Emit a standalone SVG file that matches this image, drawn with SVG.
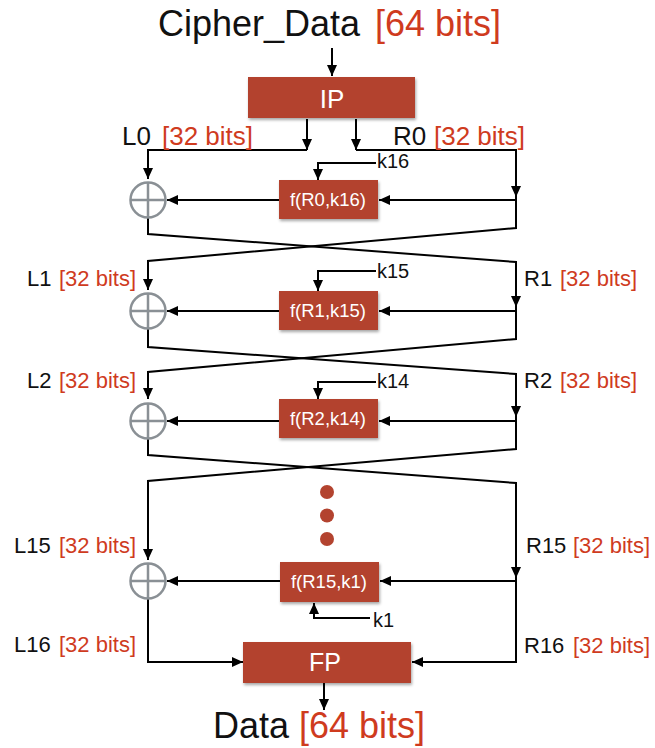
<svg xmlns="http://www.w3.org/2000/svg" width="655" height="748" viewBox="0 0 655 748">
<defs>
<marker id="ah" markerUnits="userSpaceOnUse" markerWidth="11" markerHeight="10" refX="11" refY="5" orient="auto">
<path d="M0,0 L11,5 L0,10 Z" fill="#000"/>
</marker>
<filter id="sh" x="-10%" y="-10%" width="125%" height="135%">
<feDropShadow dx="1" dy="2" stdDeviation="1.5" flood-color="#000" flood-opacity="0.35"/>
</filter>
<style>
.box{fill:#b3432f;filter:url(#sh)}
.bt{fill:#fff;font-family:"Liberation Sans",Arial,sans-serif;text-anchor:middle}
.c{fill:none;stroke:#000;stroke-width:2}
.a{marker-end:url(#ah)}
.x{fill:#fff;stroke:#8a9095;stroke-width:2.5}
.t{font-family:"Liberation Sans",Arial,sans-serif;fill:#111}
.r{fill:#cf3b1e}
.lb{font-size:22px}
.k{font-size:20px}
.dot{fill:#b3432f}
</style>
</defs>
<rect width="655" height="748" fill="#fff"/>
<g id="connectors">
<path class="c a" d="M332,48 V76"/>
<path class="c a" d="M307,119 V150"/>
<path class="c a" d="M356,119 V150"/>
<path class="c a" d="M307,150 H148 V179"/>
<path class="c a" d="M356,150 H516 V197"/>
<path class="c a" d="M516,197 V228 L148,261 V290"/>
<path class="c a" d="M516,200 H379"/>
<path class="c a" d="M279,200 H167"/>
<path class="c a" d="M376,163 H318 V180"/>
<path class="c a" d="M148,217.5 V234 L516,262 V307"/>
<path class="c a" d="M516,307 V339 L148,372 V399"/>
<path class="c a" d="M516,311 H379"/>
<path class="c a" d="M279,311 H167"/>
<path class="c a" d="M376,271 H318 V291"/>
<path class="c a" d="M148,328.5 V347 L516,374 V417"/>
<path class="c a" d="M516,417 V449 L148,481 V560"/>
<path class="c a" d="M516,421 H379"/>
<path class="c a" d="M279,421 H167"/>
<path class="c a" d="M376,382 H318 V399"/>
<path class="c a" d="M148,438.5 V455 L516,483 V578"/>
<path class="c a" d="M516,578 V662 H412"/>
<path class="c a" d="M516,581 H380"/>
<path class="c a" d="M280,581 H167"/>
<path class="c a" d="M370,618 H314 V603"/>
<path class="c a" d="M148,599 V662 H243"/>
<path class="c a" d="M324,683 V710"/>
</g>
<g id="title"><text class="t" x="158" y="36" font-size="36">Cipher_Data <tspan class="r" x="375">[64 bits]</tspan></text></g>
<g id="ip"><rect class="box" x="248" y="77" width="167" height="41"/><text class="bt" x="332" y="108" font-size="26">IP</text></g>
<g id="label-l0"><text class="t" x="122" y="145" font-size="26">L0<tspan class="r" x="162">[32 bits]</tspan></text></g>
<g id="label-r0"><text class="t" x="393" y="145" font-size="26">R0<tspan class="r" x="434">[32 bits]</tspan></text></g>
<g id="xor1"><circle class="x" cx="148" cy="200" r="17.5"/><path d="M130.5,200 H165.5 M148,182.5 V217.5" stroke="#8a9095" stroke-width="2.5"/></g>
<g id="f1"><rect class="box" x="279" y="180" width="99" height="39"/><text class="bt" x="328" y="206" font-size="18.5">f(R0,k16)</text></g>
<g id="k16"><text class="t k" x="377" y="168">k16</text></g>
<g id="label-l1"><text class="t lb" x="27" y="286">L1<tspan class="r" x="59">[32 bits]</tspan></text></g>
<g id="label-r1"><text class="t lb" x="524" y="286">R1<tspan class="r" x="560">[32 bits]</tspan></text></g>
<g id="xor2"><circle class="x" cx="148" cy="311" r="17.5"/><path d="M130.5,311 H165.5 M148,293.5 V328.5" stroke="#8a9095" stroke-width="2.5"/></g>
<g id="f2"><rect class="box" x="279" y="291" width="99" height="39"/><text class="bt" x="328" y="317" font-size="18.5">f(R1,k15)</text></g>
<g id="k15"><text class="t k" x="377" y="278">k15</text></g>
<g id="label-l2"><text class="t lb" x="27" y="388">L2<tspan class="r" x="59">[32 bits]</tspan></text></g>
<g id="label-r2"><text class="t lb" x="524" y="388">R2<tspan class="r" x="560">[32 bits]</tspan></text></g>
<g id="xor3"><circle class="x" cx="148" cy="421" r="17.5"/><path d="M130.5,421 H165.5 M148,403.5 V438.5" stroke="#8a9095" stroke-width="2.5"/></g>
<g id="f3"><rect class="box" x="279" y="399" width="99" height="39"/><text class="bt" x="328" y="425" font-size="18.5">f(R2,k14)</text></g>
<g id="k14"><text class="t k" x="377" y="388">k14</text></g>
<g id="dots"><circle class="dot" cx="327" cy="492" r="7"/><circle class="dot" cx="327" cy="515.5" r="7"/><circle class="dot" cx="327" cy="539" r="7"/></g>
<g id="label-l15"><text class="t lb" x="14" y="553">L15<tspan class="r" x="59">[32 bits]</tspan></text></g>
<g id="label-r15"><text class="t lb" x="526" y="553">R15<tspan class="r" x="573">[32 bits]</tspan></text></g>
<g id="xor4"><circle class="x" cx="148" cy="581" r="17.5"/><path d="M130.5,581 H165.5 M148,563.5 V598.5" stroke="#8a9095" stroke-width="2.5"/></g>
<g id="f4"><rect class="box" x="280" y="562" width="99" height="40"/><text class="bt" x="329" y="588" font-size="18.5">f(R15,k1)</text></g>
<g id="k1"><text class="t k" x="373" y="627">k1</text></g>
<g id="label-l16"><text class="t lb" x="14" y="652">L16<tspan class="r" x="59">[32 bits]</tspan></text></g>
<g id="label-r16"><text class="t lb" x="524" y="653">R16<tspan class="r" x="573">[32 bits]</tspan></text></g>
<g id="fp"><rect class="box" x="243" y="642" width="168" height="41"/><text class="bt" x="325" y="671" font-size="25">FP</text></g>
<g id="output"><text class="t" x="213" y="738" font-size="36">Data <tspan class="r" x="299">[64 bits]</tspan></text></g>
</svg>
